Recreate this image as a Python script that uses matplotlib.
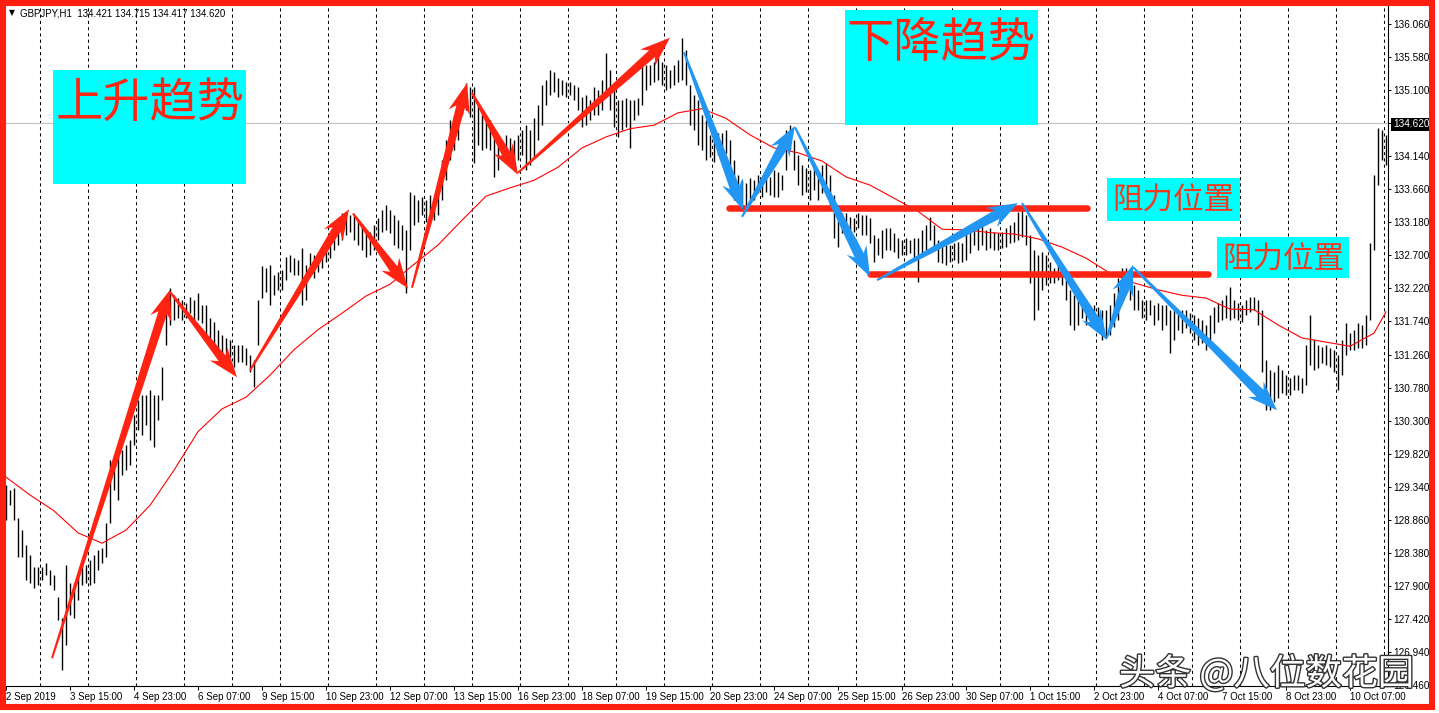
import numpy as np
import matplotlib
matplotlib.use("Agg")
import matplotlib.pyplot as plt
from matplotlib.patches import Polygon, Rectangle
import matplotlib.patheffects as pe

plt.rcParams['font.family'] = ['Liberation Sans', 'DejaVu Sans']

# GBPJPY H1 - barras (cada valor = 2 horas)
highs = [
    129.37, 129.29, 129.32, 128.89, 128.71, 128.49, 128.35, 128.17, 128.17, 128.17, 128.23, 128.13,
    128.06, 127.74, 127.43, 128.20, 127.94, 127.94, 128.06, 128.23, 128.20, 128.28, 128.35, 128.42,
    128.45, 128.81, 129.73, 129.80, 129.80, 129.87, 129.95, 130.02, 130.38, 130.60, 130.67, 130.67,
    130.75, 130.67, 130.67, 131.08, 132.05, 132.23, 132.12, 132.08, 132.05, 132.01, 132.10, 132.05,
    132.15, 131.98, 131.98, 131.79, 131.73, 131.62, 131.54, 131.50, 131.47, 131.40, 131.40, 131.40,
    131.35, 131.25, 131.18, 132.05, 132.55, 132.52, 132.56, 132.42, 132.46, 132.49, 132.68, 132.71,
    132.66, 132.63, 132.81, 132.56, 132.73, 132.71, 132.71, 132.78, 132.92, 133.00, 133.04, 133.14,
    133.32, 133.32, 133.29, 133.29, 133.21, 133.14, 133.07, 133.04, 133.14, 133.24, 133.36, 133.43,
    133.36, 133.29, 133.21, 133.14, 133.07, 133.62, 133.58, 133.50, 133.55, 133.50, 133.58, 133.53,
    133.58, 134.09, 134.38, 134.67, 134.74, 134.96, 135.10, 135.20, 135.15, 135.15, 134.88, 134.74,
    134.70, 134.67, 134.52, 134.45, 134.38, 134.45, 134.40, 134.38, 134.45, 134.52, 134.59, 134.52,
    134.70, 134.88, 135.17, 135.25, 135.39, 135.36, 135.28, 135.25, 135.22, 135.22, 135.17, 135.15,
    135.00, 135.03, 134.96, 135.15, 135.10, 135.25, 135.64, 135.39, 135.10, 134.96, 134.96, 134.98,
    134.96, 134.96, 134.98, 135.54, 135.46, 135.46, 135.51, 135.58, 135.51, 135.46, 135.39, 135.46,
    135.54, 135.86, 135.68, 135.17, 135.03, 134.96, 134.74, 134.67, 134.45, 134.45, 134.48, 134.48,
    134.52, 134.38, 134.09, 133.87, 133.79, 133.75, 133.82, 133.79, 133.87, 133.82, 133.90, 133.84,
    133.94, 133.91, 133.87, 134.52, 134.59, 134.38, 134.16, 134.01, 133.97, 133.94, 133.97, 133.94,
    134.01, 134.04, 133.87, 133.58, 133.43, 133.32, 133.32, 133.26, 133.24, 133.32, 133.29, 133.29,
    133.24, 133.00, 132.95, 133.07, 133.10, 133.10, 133.02, 132.95, 132.92, 132.95, 132.92, 132.95,
    132.95, 133.07, 133.14, 133.26, 133.14, 132.92, 132.88, 132.85, 132.85, 132.88, 132.89, 132.88,
    133.04, 133.10, 133.14, 133.21, 133.14, 133.07, 133.10, 133.04, 133.02, 133.04, 133.10, 133.14,
    133.18, 133.33, 133.36, 133.29, 133.00, 132.78, 132.71, 132.75, 132.71, 132.60, 132.52, 132.56,
    132.49, 132.42, 132.20, 132.12, 132.20, 132.12, 132.05, 131.98, 131.98, 131.95, 131.91, 131.91,
    131.98, 132.15, 132.37, 132.52, 132.52, 132.42, 132.27, 132.20, 132.05, 132.05, 132.05, 131.98,
    132.01, 131.98, 131.98, 131.91, 131.91, 131.88, 131.91, 131.91, 131.86, 131.83, 131.79, 131.76,
    131.69, 131.83, 131.95, 132.01, 132.05, 132.12, 132.24, 132.05, 132.01, 131.98, 132.05, 132.10,
    132.10, 132.05, 131.91, 131.18, 131.04, 131.01, 131.11, 131.04, 130.96, 130.92, 130.96, 130.96,
    130.92, 131.40, 131.83, 131.47, 131.40, 131.37, 131.40, 131.35, 131.33, 131.25, 131.47, 131.72,
    131.57, 131.62, 131.72, 131.69, 131.83, 132.88, 133.87, 134.55, 134.52, 134.45,
]
lows = [
    128.86, 129.07, 128.86, 128.32, 128.32, 127.99, 127.94, 127.87, 127.91, 127.99, 128.06, 127.91,
    127.84, 127.40, 126.68, 127.04, 127.48, 127.43, 127.70, 127.91, 127.94, 127.91, 127.94, 128.13,
    128.23, 128.32, 128.81, 129.29, 129.15, 129.51, 129.58, 129.66, 129.95, 130.16, 130.09, 130.24,
    130.02, 129.92, 130.31, 130.60, 131.40, 131.69, 131.76, 131.79, 131.76, 131.79, 131.86, 131.76,
    131.76, 131.72, 131.47, 131.47, 131.43, 131.33, 131.25, 131.25, 131.22, 131.08, 131.15, 131.15,
    131.11, 131.01, 130.79, 131.40, 132.08, 132.17, 131.98, 132.12, 132.20, 132.20, 132.34, 132.46,
    132.42, 132.42, 131.98, 132.05, 132.49, 132.37, 132.46, 132.52, 132.60, 132.66, 132.78, 132.85,
    132.92, 133.00, 133.04, 132.92, 132.85, 132.78, 132.68, 132.71, 132.78, 132.92, 133.04, 133.07,
    133.02, 132.85, 132.81, 132.78, 132.15, 132.78, 133.14, 133.18, 133.29, 133.18, 133.29, 133.21,
    133.29, 133.50, 133.79, 134.09, 134.23, 134.38, 134.74, 134.81, 134.71, 134.04, 134.30, 134.23,
    134.26, 134.23, 133.84, 133.94, 134.09, 134.09, 134.01, 134.04, 134.09, 134.16, 133.94, 134.01,
    134.11, 134.38, 134.59, 134.88, 135.03, 135.07, 135.00, 135.03, 135.00, 135.03, 134.96, 134.81,
    134.56, 134.59, 134.67, 134.74, 134.74, 134.81, 135.00, 134.81, 134.56, 134.42, 134.52, 134.56,
    134.26, 134.67, 134.74, 134.88, 135.10, 135.17, 135.22, 135.25, 135.17, 135.10, 135.13, 135.17,
    135.22, 135.25, 135.17, 134.59, 134.52, 134.30, 134.23, 134.09, 134.13, 134.06, 134.16, 134.23,
    134.19, 133.87, 133.50, 133.46, 133.40, 133.43, 133.50, 133.50, 133.61, 133.55, 133.62, 133.58,
    133.55, 133.55, 133.65, 133.94, 134.23, 133.94, 133.72, 133.58, 133.62, 133.50, 133.65, 133.50,
    133.61, 133.72, 133.36, 132.95, 132.82, 133.02, 133.07, 133.02, 133.04, 133.10, 133.00, 133.00,
    132.88, 132.61, 132.71, 132.66, 132.78, 132.78, 132.75, 132.66, 132.71, 132.71, 132.73, 132.66,
    132.31, 132.73, 132.78, 132.92, 132.78, 132.60, 132.59, 132.56, 132.60, 132.63, 132.59, 132.60,
    132.63, 132.73, 132.85, 132.78, 132.85, 132.78, 132.81, 132.78, 132.78, 132.81, 132.82, 132.88,
    132.89, 132.92, 132.97, 132.85, 132.30, 131.76, 131.91, 132.20, 132.27, 132.30, 132.30, 132.34,
    132.27, 132.05, 131.69, 131.62, 131.69, 131.79, 131.69, 131.76, 131.69, 131.62, 131.47, 131.50,
    131.54, 131.66, 131.76, 132.05, 132.20, 132.05, 131.91, 131.91, 131.79, 131.76, 131.83, 131.69,
    131.76, 131.62, 131.69, 131.28, 131.47, 131.62, 131.57, 131.65, 131.57, 131.47, 131.40, 131.43,
    131.33, 131.40, 131.57, 131.73, 131.76, 131.79, 131.76, 131.79, 131.76, 131.73, 131.83, 131.88,
    131.91, 131.69, 131.00, 130.45, 130.45, 130.57, 130.63, 130.70, 130.67, 130.67, 130.75, 130.75,
    130.70, 130.82, 131.11, 131.04, 131.07, 131.14, 131.11, 131.08, 131.01, 130.75, 130.96, 131.25,
    131.33, 131.33, 131.35, 131.35, 131.40, 131.76, 132.78, 133.72, 134.09, 134.01,
]

# media movel (linha vermelha), lida a cada 12 horas
ma_vals = [
    129.48, 129.22, 128.99, 128.67, 128.52, 128.71, 129.07, 129.58, 130.14, 130.47,
    130.64, 130.96, 131.33, 131.62, 131.86, 132.11, 132.28, 132.57, 132.85, 133.21,
    133.56, 133.68, 133.79, 133.98, 134.26, 134.42, 134.54, 134.59, 134.77, 134.83,
    134.69, 134.45, 134.26, 134.19, 134.07, 133.84, 133.72, 133.53, 133.34, 133.08,
    133.07, 133.03, 133.01, 132.94, 132.82, 132.66, 132.44, 132.30, 132.20, 132.12,
    132.08, 131.92, 131.91, 131.69, 131.50, 131.44, 131.38, 131.57, 131.88,
]
ma_hours = list(range(0, 685, 12)) + [690]

time_labels = ["2 Sep 2019", "3 Sep 15:00", "4 Sep 23:00", "6 Sep 07:00", "9 Sep 15:00",
               "10 Sep 23:00", "12 Sep 07:00", "13 Sep 15:00", "16 Sep 23:00", "18 Sep 07:00",
               "19 Sep 15:00", "20 Sep 23:00", "24 Sep 07:00", "25 Sep 15:00", "26 Sep 23:00",
               "30 Sep 07:00", "1 Oct 15:00", "2 Oct 23:00", "4 Oct 07:00", "7 Oct 15:00",
               "8 Oct 23:00", "10 Oct 07:00"]
price_ticks = [136.06 - 0.48 * i for i in range(21)]
current_price = 134.62

# setas desenhadas (hora inicial, preco inicial, hora final, preco final)
red_arrows = [(23, 126.85, 82, 132.20), (82, 132.17, 115.5, 130.93),
              (122, 131.03, 171.5, 133.37), (173.5, 133.31, 201, 132.22),
              (203, 132.23, 230.5, 135.20), (233, 135.06, 256, 133.87),
              (256, 133.90, 332, 135.86)]
blue_arrows = [(339, 135.65, 368.5, 133.36), (368, 133.26, 394.5, 134.58),
               (394.5, 134.56, 432, 132.39), (435.5, 132.34, 506, 133.46),
               (508, 133.46, 550.5, 131.47), (550.5, 131.51, 563.5, 132.56),
               (563.5, 132.53, 635.5, 130.45)]
resist_lines = [(361.5, 540.5, 133.39), (432, 601, 132.43)]

RED = '#ff2412'
BLUE = '#2196f3'
W, H = 1439, 713


def fx(px):
    return px / W


def fy(py):
    return 1 - py / H


fig = plt.figure(figsize=(W / 100, H / 100), dpi=100)
fig.patch.set_facecolor('white')
ax = fig.add_axes([0, (H - 686) / H, 1388 / W, 681 / H])
ax.set_xlim(-3, 691)
ax.set_ylim(126.446, 136.336)

# linhas de grade verticais (tracejadas)
for h in range(17, 691, 24):
    ax.axvline(h, color='black', lw=0.75, ls=(0, (3, 3)), zorder=0)
ax.axhline(current_price, color='#c0c0c0', lw=0.8, zorder=0)

hours = np.arange(len(highs)) * 2
ax.vlines(hours, lows, highs, colors='black', lw=1.0, zorder=2)
ax.plot(ma_hours, ma_vals, color='#ff0000', lw=0.8, zorder=3)

for x0, x1, y in resist_lines:
    ax.plot([x0, x1], [y, y], color=RED, lw=4.7, solid_capstyle='round', zorder=4)


def seta(x0, y0, x1, y1, color, tail=2, shaft=9, head_w=22, head_len=24, notch=6):
    p0 = ax.transData.transform((x0, y0))
    p1 = ax.transData.transform((x1, y1))
    d = (p1 - p0) / np.hypot(*(p1 - p0))
    n = np.array([-d[1], d[0]])
    neck = p1 - d * head_len
    barb = p1 - d * (head_len + notch)
    pts = [p0 + n * tail / 2, neck + n * shaft / 2, barb + n * head_w / 2, p1,
           barb - n * head_w / 2, neck - n * shaft / 2, p0 - n * tail / 2]
    pts = ax.transData.inverted().transform(pts)
    ax.add_patch(Polygon(pts, closed=True, facecolor=color, edgecolor='none',
                         zorder=5, clip_on=False))


for a in red_arrows:
    seta(*a, RED, shaft=9, head_w=22)
for a in blue_arrows:
    seta(*a, BLUE, shaft=10, head_w=22)

# eixos estilo MT4
for s in ['left', 'top']:
    ax.spines[s].set_visible(False)
for s in ['right', 'bottom']:
    ax.spines[s].set_linewidth(0.8)
ax.yaxis.tick_right()
ax.set_yticks(price_ticks)
ax.set_yticklabels([f"{v:.3f}" for v in price_ticks])
ax.tick_params(axis='y', direction='out', length=2.5, width=0.7, pad=1, labelsize=7.2)
ax.set_xticks([32 * j for j in range(len(time_labels))])
ax.set_xticklabels(time_labels)
ax.tick_params(axis='x', direction='out', length=3, width=0.7, pad=1.5, labelsize=7)
for lbl in ax.get_xticklabels():
    lbl.set_ha('left')
for lbl in ax.get_yticklabels():
    if lbl.get_text() == f"{current_price:.3f}":
        lbl.set_color('white')
        lbl.set_bbox(dict(facecolor='black', edgecolor='none', pad=1.0))

# cabecalho
fig.text(fx(9), fy(13), '▼', fontsize=5.5, va='center', family=['DejaVu Sans'])
fig.text(fx(20), fy(13), 'GBPJPY,H1  134.421 134.715 134.417 134.620', fontsize=7, va='center')


# caixas de texto
def caixa(x0, y0, x1, y1, txt, cx, cy, size, color):
    fig.add_artist(Rectangle((fx(x0), fy(y1)), (x1 - x0) / W, (y1 - y0) / H,
                             transform=fig.transFigure, facecolor='#00ffff',
                             edgecolor='none', zorder=6))
    fig.text(fx(cx), fy(cy), txt, fontsize=size, color=color, ha='center', va='center',
             family=['Noto Sans CJK SC'], zorder=7)


caixa(53, 70, 246, 184, '上升趋势', 150, 104, 34, RED)
caixa(845, 10, 1038, 125, '下降趋势', 941, 44, 34, RED)
caixa(1107, 178, 1240, 221, '阻力位置', 1173, 201, 22, '#f03a1e')
caixa(1217, 237, 1349, 278, '阻力位置', 1283, 260, 22, '#f03a1e')

# marca d'agua
fig.text(fx(1119), fy(674), '头条 @八位数花园', fontsize=26, color='white', ha='left',
         va='center', family=['Noto Sans CJK SC', 'DejaVu Sans'], zorder=9,
         path_effects=[pe.withStroke(linewidth=2.0, foreground='#333333')])

# moldura vermelha
fig.add_artist(Rectangle((fx(3), fy(706.5)), 1428.5 / W, 704 / H, transform=fig.transFigure,
                         fill=False, edgecolor='#ff1f10', lw=4.4, zorder=10))

fig.savefig('out.png', dpi=100, facecolor='white')
